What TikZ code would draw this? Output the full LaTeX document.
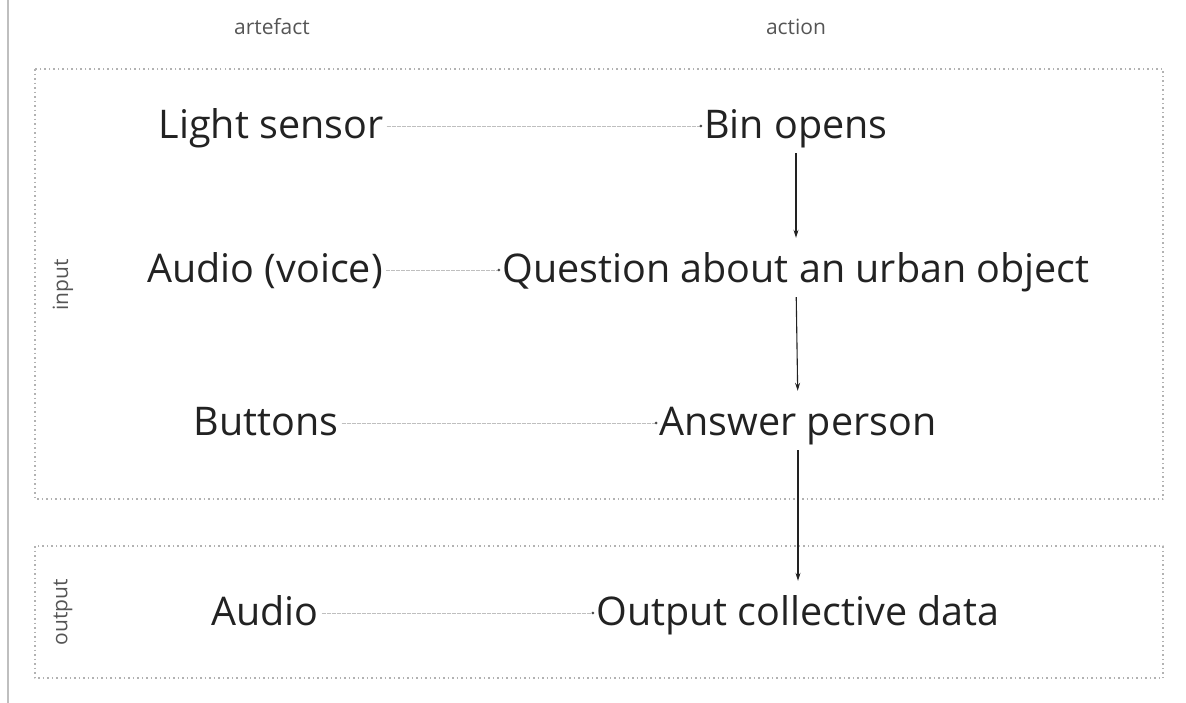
\documentclass[tikz,border=0pt]{standalone}
\usepackage{fontspec}
\setmainfont{Open Sans}
\usetikzlibrary{arrows.meta}
\definecolor{ink}{HTML}{222222}
\definecolor{soft}{HTML}{555555}
\begin{document}
\begin{tikzpicture}[x=1pt,y=-1pt,line join=round,>={Stealth[length=8pt,width=5pt]},
	item/.style={inner sep=0pt,text height=24pt,text depth=0pt,text=ink,font=\fontsize{39.5}{40}\selectfont},
	head/.style={text=soft,font=\fontsize{21}{22}\selectfont},
	side/.style={head,rotate=90},
	group/.style={draw=gray!60,line width=1.5pt,dash pattern=on 1.5pt off 3pt},
	link/.style={draw=gray!50,line width=0.9pt,dash pattern=on 4pt off 1pt,
		-{Circle[length=2.5pt,color=black!70]},shorten <=3pt,shorten >=2pt},
	flow/.style={draw=ink,line width=1.1pt,->,shorten <=15pt,shorten >=20pt}]
	\useasboundingbox (0,0) rectangle (1186,702);
	\draw[gray!50,line width=1.5pt] (8,-2) -- (8,704);
	% column heads
	\node[head] (art) at (272,27) {artefact};
	\node[head] (act) at (796,27) {action};
	% groups
	\draw[group] (35,69) rectangle (1163,499);
	\draw[group] (35,546) rectangle (1163,678);
	\node[side] (in) at (63,285) {input};
	\node[side] (out) at (63,612) {output};
	% artefacts
	\node[item] (ls) at (271,126) {Light sensor};
	\node[item] (av) at (265,270) {Audio (voice)};
	\node[item] (bt) at (266,423) {Buttons};
	\node[item] (au) at (265,613) {Audio};
	% actions
	\node[item] (bo) at (796,126) {Bin opens};
	\node[item] (qu) at (796,270) {Question about an urban object};
	\node[item] (ap) at (798,423) {Answer person};
	\node[item] (od) at (798,613) {Output collective data};
	\draw[link] (ls) -- (bo);
	\draw[link] (av) -- (qu);
	\draw[link] (bt) -- (ap);
	\draw[link] (au) -- (od);
	\draw[flow] (bo.south) -- (qu.north);
	\draw[flow] (qu.south) -- (ap.north);
	\draw[flow] (ap.south) -- (od.north);
\end{tikzpicture}
\end{document}
